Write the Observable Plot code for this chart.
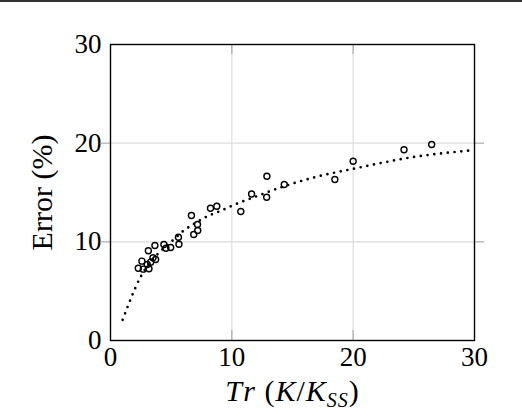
<!DOCTYPE html>
<html>
<head>
<meta charset="utf-8">
<script src="https://cdn.jsdelivr.net/npm/d3@7"></script>
<script src="https://cdn.jsdelivr.net/npm/@observablehq/plot@0.6"></script>
<style>
  body { margin: 0; background: #fff; }
  #topline { position: absolute; left: 0; top: 0; width: 522px; height: 2px; background: #333; }
  #chart { position: absolute; left: 0; top: 0; }
</style>
</head>
<body>
<div id="chart"></div>
<div id="topline"></div>
<script>
// measured points (Tr, error %)
const trValues = [2.29, 2.70, 3.17, 2.59, 3.03, 3.31, 3.50, 3.72, 3.12, 3.66,
  4.40, 4.57, 4.96, 5.64, 5.60, 6.67, 7.17, 7.19, 6.86, 8.24,
  8.76, 10.74, 11.63, 12.87, 12.89, 14.32, 18.49, 20.0, 24.19, 26.47];
const errValues = [7.33, 7.23, 7.27, 8.04, 7.70, 7.94, 8.38, 8.21, 9.09, 9.63,
  9.73, 9.35, 9.43, 9.76, 10.47, 12.67, 11.76, 11.15, 10.74, 13.41,
  13.61, 13.07, 14.85, 14.52, 16.65, 15.81, 16.32, 18.17, 19.33, 19.86];

// dotted fit curve
const fitX = [1, 1.5, 2, 2.5, 3, 4, 5, 6, 7, 8, 9, 10, 12, 14, 17, 20, 25, 30];
const fitY = [2.1, 3.7, 5.2, 6.5, 7.5, 8.9, 10.0, 11.1, 11.9, 12.6, 13.1, 13.65, 14.6, 15.5, 16.6, 17.4, 18.6, 19.3];

const xTicks = [0, 10, 20, 30];
const yTicks = [0, 10, 20, 30];
const gridTicks = [10, 20];

const points = trValues.map((x, i) => ({x, y: errValues[i]}));
const fit = fitX.map((x, i) => ({x, y: fitY[i]}));

const tickColor = "#aaa";
const serif = "'Liberation Serif', 'DejaVu Serif', serif";

const plot = Plot.plot({
  width: 522,
  height: 416,
  marginLeft: 110,
  marginRight: 48,
  marginTop: 44,
  marginBottom: 76,
  style: {fontFamily: serif, fontSize: "27px", color: "#000", background: "#fff"},
  x: {domain: [0, 30], ticks: xTicks, tickSize: 0, tickPadding: 6, label: "Tr (K/KSS)", labelAnchor: "center", labelOffset: 60},
  y: {domain: [0, 30], ticks: yTicks, tickSize: 0, tickPadding: 9, label: "Error (%)", labelAnchor: "center", labelOffset: 80},
  marks: [
    Plot.gridX(gridTicks, {stroke: "#dcdcdc", strokeOpacity: 1, strokeWidth: 1.2}),
    Plot.gridY(gridTicks, {stroke: "#dcdcdc", strokeOpacity: 1, strokeWidth: 1.2}),
    // inward tick marks on all four sides
    Plot.ruleX(gridTicks, {y1: 0, y2: 0, insetBottom: 10, stroke: tickColor, strokeWidth: 1.2}),
    Plot.ruleX(gridTicks, {y1: 30, y2: 30, insetTop: 10, stroke: tickColor, strokeWidth: 1.2}),
    Plot.ruleY(gridTicks, {x1: 0, x2: 0, insetRight: 10, stroke: tickColor, strokeWidth: 1.2}),
    Plot.ruleY(gridTicks, {x1: 30, x2: 30, insetLeft: 10, stroke: tickColor, strokeWidth: 1.2}),
    Plot.line(fit, {x: "x", y: "y", curve: "monotone-x", stroke: "#000", strokeWidth: 2.7,
      strokeDasharray: "0,6.8", strokeLinecap: "round"}),
    Plot.dot(points, {x: "x", y: "y", r: 3, stroke: "#000", strokeWidth: 1.4, fill: "none"}),
    Plot.frame({stroke: "#000", strokeWidth: 1.4})
  ]
});

document.querySelector("#chart").append(plot);

d3.select(plot).selectAll("text, tspan").style("font-family", serif);

// plain y label, without the direction arrow
d3.select(plot).selectAll("g[aria-label='y-axis label'] text")
  .text("Error (%)")
  .style("font-size", "30px");

// rich x label with italics and subscript
d3.select(plot).selectAll("g[aria-label='x-axis label'] text").each(function() {
  const t = d3.select(this);
  t.text("");
  t.style("font-style", "italic").style("font-size", "30px").style("letter-spacing", "1px");
  t.append("tspan").text("T");
  t.append("tspan").attr("dx", "2").text("r");
  t.append("tspan").style("font-style", "normal").text(" (");
  t.append("tspan").text("K");
  t.append("tspan").style("font-style", "normal").text("/");
  t.append("tspan").text("K");
  t.append("tspan").style("font-size", "20px").attr("dy", "6").text("SS");
  t.append("tspan").style("font-style", "normal").attr("dy", "-6").text(")");
});
</script>
</body>
</html>
